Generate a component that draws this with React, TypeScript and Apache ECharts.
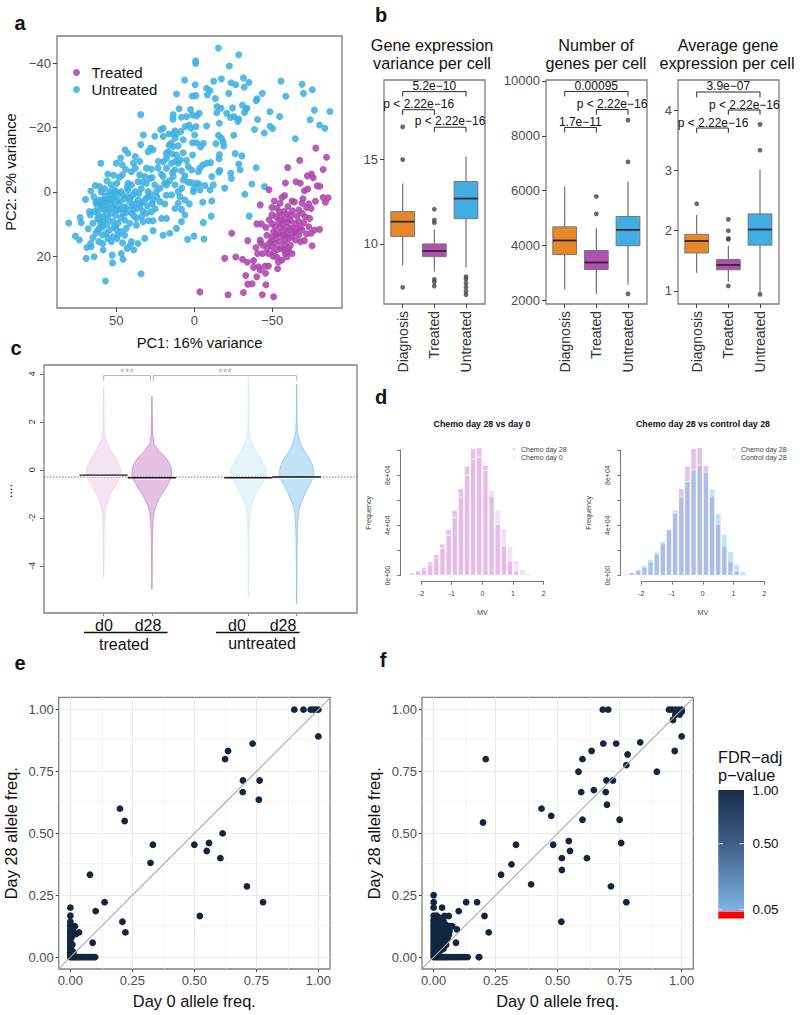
import React, { useEffect, useRef } from "react";
import * as echarts from "echarts";

const FONT = "Liberation Sans";

// ---------- panel a ----------
const untreatedPCA: number[][] = [
[-15.5,-44.7],[-28.5,-42.6],[-.9,-40.7],[-.9,-39.9],[-22.5,-39.1],[6.2,-34.7],[-.6,-33.3],[-12.4,-34.4],[-17.4,-35.1],[-23.6,-33.9],[-26.6,-33.3],[-31.5,-35.4],[-35,-34],[-32,-32.5],[-55.6,-34.4],[-69.1,-33.4],[-75.7,-31.7],[-70,-30.6],[-58.7,-29.7],[-43.6,-30.6],[-40.3,-28.9],[-39.7,-28.3],[-7.9,-32.2],[-10.1,-31.5],[-8.4,-30.1],[-22.1,-30.6],[-13.5,-29],[11.4,-30.4],[1.3,-29.8],[-1.1,-29.9],[9.7,-25.8],[2.4,-25.6],
[-48.5,-24.9],[-54.7,-23.4],[-40.6,-22.5],[-38.6,-19.4],[-44.9,-18.3],[-48.5,-20.4],[-50.2,-19.7],[-64.8,-16.5],[-74.3,-22.4],[-77,-25.4],[-80.3,-20.8],[-83.7,-19.8],[-86.9,-25],
[-33.3,-25.8],[-30.9,-26.9],[-32.2,-24.7],[-33.7,-26],[-24.5,-26.1],[-14.6,-26.5],[-17.2,-26],[-14.4,-24.6],[-20.8,-24.4],[-23.2,-23.1],[-25.5,-23.4],[-28.5,-22.6],[-27.9,-21.9],[-16.1,-21.3],[-25.3,-17.6],[-15.5,-17.6],[-17.4,-16.7],[-13.9,-15],[-18.9,-14.3],[-18.5,-15.6],[-26.2,-11.9],[-30.5,-11.2],[-16.1,-11.6],[-15.9,-10.3],[-28.5,-8.7],[-29.4,-6.9],[-23.4,-5.8],[-39.7,-7.5],[-36.9,-2.5],[-45,-1.7],[-32.4,.7],[-35.2,7.5],[-23.8,-4.2],[-19.5,-1.2],[-16.3,-6.7],[-15.7,-6.2],
[-3.2,-24.4],[-1.5,-23.6],[4.9,-23.4],[1.1,-23.9],[8.2,-23.2],[13.5,-24],[13.7,-22.6],[34.3,-24],[3.4,-20.8],[5.8,-20.3],[2.1,-19.8],[-1.1,-20.3],[-7.9,-20.5],[-.2,-17.7],[12.4,-19],[20,-19.8],[21.5,-19.4],[16.3,-18],[13.5,-18],[11.4,-18],[8.6,-18.8],[7.1,-16.2],[20,-17.2],[25.3,-17.3],[32.6,-17.7],[34.3,-14.7],[12.4,-16.7],[1.1,-15.3],[-1.5,-15.3],[-5.8,-15.1],[16.1,-14.5],[13.5,-14.1],[10.3,-14.3],[27.9,-13.6],[26.4,-13.1],[29.6,-12.5],[44.4,-13.1],[42.5,-12],[37.8,-11],[35,-9.5],[47.2,-10.5],[50,-8.9],[46.1,-8.4],[59.9,-8.9],
[16.7,-12.5],[14.2,-11.8],[11.4,-11.5],[7.1,-12.2],[1.1,-11.5],[20,-9.4],[17.8,-10.5],[14.6,-8.9],[10.3,-8.9],[3.9,-7.9],[-3.6,-7.4],[-5.4,-8.4],[-10.5,-9.1],[-7.9,-8.9],[-2.6,-6.3],[1.7,-6.8],[8.2,-6.6],[12.4,-6.8],[17.8,-7.4],[23.2,-7.4],[27.5,-7.1],[30.7,-7.4],[37.8,-7.4],[40.3,-6.3],[55.4,-5.6],[51.7,-5.2],[46.1,-5.3],[35,-5.3],[31.8,-4.8],[28.5,-4.2],[20,-4.8],[13.5,-4.8],[7.1,-3.7],[1.7,-2.9],[-1.5,-2.7],[-6.9,-2],[-11.2,-4.8],[-12.2,-2.2],[-10.1,-.6],[-3.6,-.6],[.2,-1.1],[12.4,-2.2],[17.8,-2.2],[25.3,-2.2],[30.7,-2.7],[36,-3.2],[40.3,-2.2],[42.5,-2.7],[49.6,-2.7],[53.2,-2.2],[63.5,-2],[60.7,-1.7],[66.3,-.3],[69.7,2.3],[64.4,1.5],[59.7,-.1],[57.5,-1.1],[54.3,-.1],[51.1,-.6],[46.8,-.1],[42.5,-.6],[37.8,-.1],[33.9,-1.1],[29.6,-.1],[24.3,-.1],[10.3,-.1],[9.2,1.5],[.6,-.1],
[60.7,2.5],[58.6,3.5],[56.4,3],[54.3,2.5],[51.1,1.5],[48.9,2.5],[45.7,.9],[42.5,1.5],[39.3,.9],[36.1,2.5],[32.8,3],[29.6,1.5],[26.4,2.5],[22.1,3],[18.9,3.7],[14.6,.9],[10.3,3.5],[6,2.5],[3.2,3.7],[-5.4,3.2],[-11.2,2.8],[12.4,5.1],[8.2,5.4],[6,7.1],[8.2,9.2],[17.8,8.2],[21,8.2],[27.5,6.1],[30.7,6.6],[33.9,7.7],[37.1,8.2],[40.3,6.6],[43.6,5.1],[46.8,5.1],[50,5.6],[53.2,6.6],[56.4,4.6],[59.7,5.1],[61.8,6.6],[64,6.1],[67.2,6.1],[66.7,7.1],[65,9.7],[73.2,7.9],[72.5,9.5],[80.5,9.6],[68,11.4],[60.7,8.7],[58.6,7.7],[55.4,8.2],[52.1,9.2],[48.9,9.7],[44.6,8.7],[41.4,9.7],[37.1,10.3],[32.8,9.2],[29.2,8.9],[26.4,8.9],[26.4,12],[20,13.4],[15.7,12.8],[11.4,11.3],[-5.8,9.5],[-10.9,7.5],[4.3,14.7],[.2,13.7],[-6.2,14.6],[43.6,11.3],[46.8,12.3],[51.1,10.8],[54.3,11.8],[58.6,10.8],[61.8,11.8],[65,14.1],[61.2,15.4],[58.6,16],[55.4,14.4],[52.1,13.9],[48.9,13.4],[44.6,13.4],[40.3,15.4],[36.1,16],[31.8,14.4],[38.8,18],[41,16.5],[46.8,19.1],[45.7,20.9],[52.6,19.6],[52.4,22],[58.4,18],[66.1,17],[68.9,17.2],[64.2,20.1],[69.3,20.6],[76.2,13.7],[73.6,14.9],[56.9,27.6],[34.1,25.4],
[58.6,2.5],[59.7,4],[57.5,5.6],[60.7,7.7],[56.4,6.6],[58.6,9.2],[55.4,5.1],[53.2,3.5],[51.1,4],[47.9,3.5],[44.6,4.6],[41.4,3],[38.2,3.7],[35,4.6],[50,-.1],[52.1,2],[61.8,4.6],[62.9,3],[60.7,11.3],[56.4,12.8],[53.2,15.4],[49.6,14.4],[45.7,6.6],[39.3,5.6],
[63,3.6],[62,8.2],[60,9.9],[57,1.2],[55.5,2.2],[53,.9],[52.5,4.8],[50.5,7.2],[49,5.5],[48,.5],[47,8],[45,2.2],[44,6.5],[43,-1.5],[41,2],[40,4.4],[38.5,7.5],[37,5.2],[35.5,.5],[34,3.5],[33,6],[31,2],[30,4.3],[28,.8],[27,3.6],[25,5.2],[24,1.5],[22,-1.2],[19,-2.8],[18,1],[16,-3.5],[14,-6],[12,-9.5],[9,-10],[6,-5],[4,-3],[8,-1.2],[56,-3.4],[48,-4.6],[44,-7],[39,-9],[33,-3],[27,-4.5],[23,-9.5],[18,-12],[21,-5.5],[15,-15.2],[5,-9.8],[-4,-14],[-3,-2.5],[56,10],[63,12.7],[59,13.3],[66.5,16],[50,11.6],[46,15.8],[43,17.5]
];
const treatedPCA: number[][] = [
[-77.9,-13.6],[-84.8,-10.8],[-67.6,-9.8],[-59.9,-7.6],[-82.6,-7],[-75.1,-5.6],[-72.5,-5],[-76.2,-4.4],[-65.2,-3.2],[-68,-2.7],[-58.4,-2.8],[-78.8,-1.9],[-80.5,-1.8],[-72.7,-.9],[-70.6,-.4],[-47.9,-.7],[-56.2,1.7],[-57.9,1.1],[-62.7,2.8],[-64.2,3.1],[-69.7,2.1],[-69.1,3.5],[-77.7,2.9],[-82.6,1.7],[-85.8,1.8],[-84.1,3.2],[-73.4,3.7],[-74.9,5.1],[-51.3,2.8],[-42.3,4],
[-49.8,4.8],[-67,5.6],[-65.9,7.5],[-69.1,6.6],[-71.2,7.7],[-74,8.2],[-54.7,6.2],[-57.3,6.1],[-59.4,6.8],[-49.8,7.1],[-52.6,7.7],[-55.2,7.7],[-58.4,8.2],[-61.6,8.7],[-64.2,9.7],[-67,9.2],[-70.2,9.5],[-73.4,10.8],[-40.1,9.9],[-43.1,9.9],[-49.8,9.9],[-54.1,9.2],[-56.2,9.9],[-51.9,10.8],[-59.4,10.8],[-62.7,11.3],[-65.9,11.3],[-69.1,11.8],[-77,11.8],[-80.3,11.6],[-74.9,12.8],[-24,12.8],[-46.6,13.4],[-49.8,13.9],[-52.6,14.4],[-56.2,13.4],[-59.4,12.8],[-62.7,13.9],[-64.8,14.9],[-68,15.4],[-70.6,15.1],[-34.3,15.1],[-42.3,14.9],[-42.5,15.7],[-49.1,15.4],[-51.9,16],[-55.2,15.4],[-58.4,16.5],[-61.6,16.5],[-75.5,16.7],[-39.5,17.2],[-40.6,19.1],[-46.6,17.5],[-49.8,17],[-57.3,17.8],[-59.9,17.5],[-62.7,19.1],[-59.4,20.1],[-43.8,19.1],[-47.6,19.1],[-50.4,19.9],[-53,20.3],[-56.2,21.1],[-54,21.7],[-19.5,20.6],[-26.6,20.2],[-30.9,20.9],[-33.9,21.8],[-38,21.3],[-38,23.4],[-41.2,23.2],[-42.3,24.2],[-45.5,23],[-47.6,23],[-53.4,23.8],[-33,25.9],[-45.7,25.2],[-40.1,26.3],[-34.3,28.6],[-37.1,28.5],[-45.9,28.8],[-3.6,31],[-21.7,31.9],[-31.5,31.2],[-43.6,31.9],[-50.9,32.5],
[-56.2,8.8],[-57.3,11.8],[-54,12.8],[-50.9,12.3],[-60.5,14.4],[-63.7,12.8],[-61.6,11.8],[-58.4,14.9],[-55.2,17.5],[-58.4,19.1],[-60.5,18.2],
[-55,3.5],[-60,4.5],[-63,5.8],[-53,5],[-48,8.6],[-46,11],[-52,13.2],[-55,11],[-58,13.6],[-65,12.2],[-67,13.3],[-72,13],[-53.5,17.8],[-51,18.7],[-48,16],[-44,16.5],[-62,7.2],[-68,11],[-72,4.8],[-60,9.5]
];

// ---------- panel b ----------
const groupNames = ["Diagnosis", "Treated", "Untreated"];
const groupColors = ["#e6872a", "#b04fb0", "#41aee3"];
// [group, min, q1, median, q3, max]
const varianceBoxes = [[1,8.72,10.45,11.32,11.92,13.58],[2,8.36,9.25,9.58,10,10.85],[3,8.6,11.5,12.69,13.7,15.18]];
const varianceOutliers = [[1,16.94],[1,15],[1,7.43],[2,12.06],[2,11.42],[2,11.26],[2,7.9],[2,7.75],[2,7.5],[3,8.06],[3,7.9],[3,7.66],[3,7.43],[3,7.19],[3,6.99]];
const genesBoxes = [[1,2407,3672,4182,4681,6152],[2,2237,3124,3380,3818,4632],[3,2565,3988,4571,5058,6335]];
const genesOutliers = [[2,5788],[2,5155],[3,8572],[3,7052],[3,2237]];
const averageBoxes = [[1,1.3,1.63,1.83,1.94,2.26],[2,1.15,1.35,1.43,1.52,1.75],[3,.98,1.76,2.02,2.28,3.02]];
const averageOutliers = [[1,2.45],[2,2.19],[2,2],[2,1.87],[2,1.855],[2,1.08],[3,3.77],[3,3.34],[3,.94]];
// [from, to, bar value, tip value]
const varianceBrackets = [[1,3,19.03,18.74],[1,2,17.96,17.65],[2,3,16.92,16.62]];
const genesBrackets = [[1,3,9618,9435],[2,3,8961,8767],[1,2,8305,8122]];
const averageBrackets = [[1,3,4.31,4.22],[2,3,4.01,3.93],[1,2,3.71,3.63]];

// ---------- panel c ----------
// [MV value, half width of the bean]
const beanTreatedD0 = [[3.44,.003],[2.5,.007],[1.6,.014],[1.3,.04],[1,.097],[.75,.166],[.5,.25],[.25,.317],[0,.359],[-.25,.359],[-.5,.29],[-.75,.22],[-1,.152],[-1.25,.097],[-1.5,.062],[-1.75,.034],[-2,.021],[-2.5,.01],[-3,.007],[-4,.005],[-4.51,.003]];
const beanTreatedD28 = [[3.06,.003],[2,.01],[1.4,.02],[1.1,.04],[.75,.166],[.5,.29],[.25,.372],[0,.41],[-.25,.41],[-.5,.359],[-.75,.29],[-1,.207],[-1.25,.138],[-1.5,.083],[-1.75,.048],[-2,.031],[-2.5,.017],[-3,.01],[-4,.007],[-4.97,.003]];
const beanUntreatedD0 = [[3.86,.003],[2.5,.007],[1.6,.014],[1.3,.04],[1,.097],[.75,.166],[.5,.25],[.25,.31],[0,.366],[-.25,.366],[-.5,.3],[-.75,.228],[-1,.159],[-1.25,.103],[-1.5,.062],[-1.75,.034],[-2,.021],[-2.5,.012],[-3,.008],[-4,.005],[-5.28,.003]];
const beanUntreatedD28 = [[3.58,.003],[2.2,.007],[1.5,.021],[1,.097],[.75,.166],[.5,.25],[.25,.317],[0,.352],[-.25,.352],[-.5,.303],[-.75,.234],[-1,.172],[-1.25,.117],[-1.5,.069],[-1.75,.041],[-2,.028],[-2.5,.017],[-3,.012],[-4,.007],[-5.58,.003]];
const beanMeans = [-.22,-.33,-.33,-.3];
const beanPositions = [1,2,4,5];
const overallMean = -.3;

// ---------- panel d ----------
const histBins = [-2.5,-2.3,-2.1,-1.9,-1.7,-1.5,-1.3,-1.1,-.9,-.7,-.5,-.3,-.1,.1,.3,.5,.7,.9,1.1,1.3,1.5,1.7];
const chemoDay28 = [1300,2400,4200,6900,11100,17000,25500,36900,52300,69500,87500,101300,102100,88000,63400,40800,23600,11400,3700,1100,300,0];
const chemoDay0 = [1300,2400,4200,5300,8800,14300,22300,32400,46400,62300,80100,93100,94600,84000,68100,52500,37700,23600,12200,5300,2100,500];
const controlDay28 = [1600,2900,5000,8500,13300,19100,27600,36900,50100,62800,75300,84500,88000,82700,69200,49600,33200,19600,9500,3700,1100,0];

// ---------- panels e, f ----------
const alleleE: number[][] = [
[.903,1],[.94,1],[.969,1],[.98,1],[.99,1],[1,1],[1,.892],[.735,.863],[.636,.833],[.624,.8],[.696,.714],[.763,.714],[.695,.667],[.76,.636],[.2,.6],[.219,.55],[.333,.454],[.323,.381],[.5,.454],[.559,.461],[.55,.429],[.614,.5],[.605,.4],[.079,.333],[.712,.286],[.138,.222],[.777,.222],[.102,.186],[.522,.166],[.21,.143],[.222,.1],[.09,.058],
[0,.2],[0,.167],[0,.143],[0,.13],[0,.125],[0,.111],[0,.1],[0,.09],[0,.08],[0,.07],[0,.06],[0,.05],[0,.04],[0,.03],[0,.02],[0,.01],[.018,.125],[.035,.1],[.023,.093],[.01,.111],[.005,.08],[.008,.05],[.004,.03],[.012,.02],
[0,0],[.005,0],[.01,0],[.015,0],[.02,0],[.025,0],[.03,0],[.035,0],[.04,0],[.045,0],[.05,0],[.055,0],[.06,0],[.066,0],[.072,0],[.077,0],[.083,0],[.09,0],[.095,0],[.1,0]
];
const alleleF: number[][] = [
[.949,1],[.961,1],[.974,1],[.988,1],[1,1],[.682,1],[.704,1],[.988,.992],[1,.992],[.974,.978],[.965,.958],[.98,.985],[.992,.98],[1,.892],[.972,.833],[.833,.868],[.736,.863],[.684,.863],[.637,.833],[.6,.8],[.782,.819],[.777,.776],[.21,.8],[.584,.749],[.9,.749],[.697,.714],[.723,.714],[.646,.675],[.595,.667],[.694,.667],[.699,.616],[.435,.6],[.474,.571],[.6,.555],[.75,.555],[.199,.544],[.545,.469],[.756,.461],[.332,.454],[.482,.454],[.55,.429],[.517,.4],[.618,.4],[.314,.375],[.517,.352],[.272,.333],[.393,.294],[.715,.286],[.777,.222],[.515,.143],[.205,.166],[.222,.1],[.175,.222],[.131,.222],[.101,.186],[.034,.2],[0,.25],[0,.222],[0,.2],[.044,.166],[.061,.166],[.094,.112],[.09,.058],[.182,0],
[0,.167],[0,.15],[0,.143],[0,.13],[0,.12],[0,.11],[0,.1],[0,.09],[0,.08],[0,.07],[0,.06],[0,.05],[0,.04],[0,.03],[0,.02],[0,.01],[.012,.167],[.02,.16],[.03,.15],[.04,.143],[.05,.13],[.067,.125],[.075,.125],[.012,.143],[.02,.13],[.03,.125],[.04,.118],[.06,.11],[.012,.11],[.022,.1],[.035,.1],[.05,.1],[.062,.09],[.012,.08],[.025,.075],[.045,.08],[.012,.055],[.03,.05],[.05,.05],[.04,.035],[.012,.03],[.02,.02],[.012,.01],
[.008,.16],[.008,.13],[.008,.1],[.008,.07],[.008,.04],[.016,.15],[.016,.12],[.016,.09],[.016,.065],[.016,.04],[.024,.14],[.024,.115],[.024,.085],[.024,.055],[.032,.135],[.032,.09],[.032,.07],[.032,.03],[.04,.16],[.04,.1],[.04,.08],[.04,.06],[.048,.115],[.048,.09],[.056,.125],[.056,.1],[.056,.075],[.064,.105],
[0,0],[.006,0],[.012,0],[.018,0],[.024,0],[.03,0],[.036,0],[.042,0],[.048,0],[.054,0],[.06,0],[.068,0],[.075,0],[.082,0],[.09,0],[.097,0],[.105,0],[.115,0],[.125,0],[.137,0],[.184,0]
];

const alleleTicks = [0, .25, .5, .75, 1];
const alleleMinor = [.125, .375, .625, .875];
const corr = [-.06, 1.06];

const GREY = "#4d4d4d";
const FRAME = "#7f7f7f";
const PT_BLUE = "#3fb0e3";
const PT_PURPLE = "#ad47ad";
const DARK = "#12263f";

const minus = (v: any) => String(v).replace("-", "\u2212");

function valueAxis(gridIndex: number, min: number, max: number, ticks: number[], extra: any = {}) {
  const { axisLabel, axisTick, axisLine, ...rest } = extra;
  return {
    type: "value", gridIndex, min, max, scale: false,
    axisLine: { show: false, onZero: false, ...(axisLine || {}) },
    axisTick: { show: true, length: 4, lineStyle: { color: "#444", width: 1 }, customValues: ticks, ...(axisTick || {}) },
    axisLabel: { color: GREY, fontSize: 13, fontFamily: FONT, margin: 6, customValues: ticks, formatter: minus, ...(axisLabel || {}) },
    splitLine: { show: false },
    ...rest,
  };
}

function boxSeries(axis: number, rows: number[][]) {
  return {
    type: "custom", xAxisIndex: axis, yAxisIndex: axis, data: rows, clip: false,
    encode: { x: 0, y: [1, 2, 3, 4, 5] },
    renderItem: (p: any, api: any) => {
      const x = api.value(0);
      const c = (a: number, b: number) => api.coord([a, b]);
      const hw = .375;
      const lo = c(x, api.value(1)), q1 = c(x, api.value(2)), med = c(x, api.value(3)), q3 = c(x, api.value(4)), hi = c(x, api.value(5));
      const l = c(x - hw, 0)[0], r = c(x + hw, 0)[0];
      const w = { stroke: "#666", lineWidth: 1.1 };
      return {
        type: "group",
        children: [
          { type: "line", shape: { x1: lo[0], y1: lo[1], x2: q1[0], y2: q1[1] }, style: w },
          { type: "line", shape: { x1: q3[0], y1: q3[1], x2: hi[0], y2: hi[1] }, style: w },
          { type: "rect", shape: { x: l, y: q3[1], width: r - l, height: q1[1] - q3[1] }, style: { fill: groupColors[p.dataIndex], stroke: "#777", lineWidth: 1 } },
          { type: "line", shape: { x1: l, y1: med[1], x2: r, y2: med[1] }, style: { stroke: "#2b2b2b", lineWidth: 1.8 } },
        ],
      };
    },
  };
}

function bracketSeries(axis: number, rows: number[][]) {
  return rows.map(([a, b, top, tip]) => ({
    type: "line", xAxisIndex: axis, yAxisIndex: axis, symbol: "none", clip: false,
    lineStyle: { color: "#111", width: .9 },
    data: [[a, tip], [a, top], [b, top], [b, tip]],
  }));
}

function beanSeries(center: number, profile: number[][], fill: string, stroke: string) {
  return {
    type: "custom", xAxisIndex: 4, yAxisIndex: 4, data: [[center]], clip: false,
    encode: { x: 0 },
    renderItem: (_: any, api: any) => {
      const x = api.value(0);
      const pts = [
        ...profile.map(([y, w]) => api.coord([x - w, y])),
        ...[...profile].reverse().map(([y, w]) => api.coord([x + w, y])),
      ];
      return { type: "polygon", shape: { points: pts }, style: { fill, stroke, lineWidth: .8 } };
    },
  };
}

function histSeries(axis: number, name: string, values: number[], color: string) {
  return {
    type: "bar", name, xAxisIndex: axis, yAxisIndex: axis, clip: false,
    barWidth: 6.13, barGap: "-100%",
    itemStyle: { color, borderColor: "#fff", borderWidth: .7 },
    data: histBins.map((b, i) => [b, values[i]]),
  };
}

function alleleSeries(axis: number, pts: number[][]) {
  return [
    {
      type: "line", xAxisIndex: axis, yAxisIndex: axis, data: [], symbol: "none", silent: true,
      markLine: {
        silent: true, symbol: "none", label: { show: false }, animation: false, z: 0,
        lineStyle: { color: "#f1f1f1", width: .8, type: "solid" },
        data: [...alleleMinor.map((v) => ({ xAxis: v })), ...alleleMinor.map((v) => ({ yAxis: v }))],
      },
    },
    { type: "scatter", xAxisIndex: axis, yAxisIndex: axis, symbolSize: 6.8, z: 3, itemStyle: { color: DARK, opacity: 1 }, data: pts },
    {
      type: "line", xAxisIndex: axis, yAxisIndex: axis, symbol: "none", z: 4,
      lineStyle: { color: "#aaaaaa", width: 1.1 }, data: [[corr[0], corr[0]], [corr[1], corr[1]]],
    },
  ];
}

function alleleAxes(axis: number) {
  const common = {
    axisLabel: { formatter: (v: number) => v.toFixed(2), color: GREY, fontSize: 13, margin: 5 },
    axisTick: { length: 3, lineStyle: { color: "#444", width: 1 } },
    splitLine: { show: true, lineStyle: { color: "#ebebeb", width: 1 } },
    nameLocation: "middle",
    nameTextStyle: { fontSize: 16.4, color: "#111", fontFamily: FONT },
  };
  return {
    x: valueAxis(axis, -.047, 1.047, alleleTicks, { ...common, name: "Day 0 allele freq.", nameGap: 24 }),
    y: valueAxis(axis, -.048, 1.05, alleleTicks, { ...common, name: "Day 28 allele freq.", nameGap: 40 }),
  };
}

function histAxes(axis: number) {
  const line = { show: true, lineStyle: { color: "#777", width: 1 } };
  const xA = valueAxis(axis, -2, 2, [-2, -1, 0, 1, 2], {
    axisLine: line, offset: 6,
    axisLabel: { fontSize: 7, color: "#444", margin: 8, formatter: (v: number) => String(v) },
    axisTick: { length: 3, lineStyle: { color: "#777", width: 1 } },
    name: "MV", nameLocation: "middle", nameGap: 27, nameTextStyle: { fontSize: 7.2, color: "#444", fontFamily: FONT },
  });
  const yA = valueAxis(axis, 0, 100000, [0, 20000, 40000, 60000, 80000, 100000], {
    axisLine: line, offset: 21,
    axisLabel: {
      fontSize: 7, color: "#444", rotate: 90, margin: 9, customValues: [0, 40000, 80000],
      formatter: (v: number) => (v === 0 ? "0e+00" : v / 10000 + "e+04"),
    },
    axisTick: { length: 3, lineStyle: { color: "#777", width: 1 } },
    name: "Frequency", nameLocation: "middle", nameGap: 28, nameTextStyle: { fontSize: 7.2, color: "#444", fontFamily: FONT },
  });
  return { x: xA, y: yA };
}

function txt(x: number, y: number, text: string, fontSize: number, opts: any = {}) {
  const { rotation, ...style } = opts;
  return {
    type: "text", x, y, rotation: rotation || 0, z: 20,
    style: { text, fontSize, fontFamily: FONT, fill: "#111", textAlign: "center", textVerticalAlign: "middle", ...style },
  };
}

function buildOption(): any {
  const frame = { show: true, borderColor: FRAME, borderWidth: 1.3, backgroundColor: "transparent" };
  const grids: any[] = [
    { left: 57, top: 36, width: 285, height: 272, ...frame },
    { left: 384, top: 80, width: 101, height: 224, ...frame },
    { left: 546, top: 80, width: 101, height: 224, ...frame },
    { left: 678, top: 80, width: 101, height: 224, ...frame },
    { left: 44, top: 365, width: 313, height: 248, ...frame },
    { left: 421, top: 450, width: 122.7, height: 125.7, show: false },
    { left: 641.3, top: 450, width: 123, height: 125.7, show: false },
    { left: 58.7, top: 697.3, width: 271.3, height: 271.7, ...frame },
    { left: 422, top: 697.3, width: 271.3, height: 271.7, ...frame },
  ];

  const groupLabel = { fontSize: 14, color: "#333", rotate: 90, margin: 7, formatter: (v: number) => groupNames[v - 1], customValues: [1, 2, 3] };
  const catAxis = (i: number) => valueAxis(i, .41, 3.6, [1, 2, 3], { axisLabel: groupLabel });
  const e = alleleAxes(7), f = alleleAxes(8), h1 = histAxes(5), h2 = histAxes(6);

  const xAxis = [
    valueAxis(0, -94.7, 88, [50, 0, -50], {
      inverse: true, name: "PC1: 16% variance", nameLocation: "middle", nameGap: 27,
      nameTextStyle: { fontSize: 14.7, color: "#111", fontFamily: FONT },
    }),
    catAxis(1), catAxis(2), catAxis(3),
    valueAxis(4, -.236, 6.25, beanPositions, { axisLabel: { show: false }, axisTick: { length: 3, lineStyle: { color: "#888" } } }),
    h1.x, h2.x, e.x, f.x,
  ];
  const yAxis = [
    valueAxis(0, -48.4, 36, [-40, -20, 0, 20], {
      inverse: true, name: "PC2: 2% variance", nameLocation: "middle", nameGap: 39,
      nameTextStyle: { fontSize: 14.7, color: "#111", fontFamily: FONT },
    }),
    valueAxis(1, 6.44, 19.72, [10, 15]),
    valueAxis(2, 1866, 10036, [2000, 4000, 6000, 8000, 10000]),
    valueAxis(3, .78, 4.51, [1, 2, 3, 4]),
    valueAxis(4, -5.97, 4.37, [-4, -2, 0, 2, 4], {
      axisLabel: { fontSize: 9, color: "#333", rotate: 90, margin: 8, formatter: (v: number) => String(v) },
      axisTick: { length: 4, lineStyle: { color: "#666" } },
    }),
    h1.y, h2.y, e.y, f.y,
  ];

  const meanLines = beanPositions.map((pos, i) => ({
    type: "line", xAxisIndex: 4, yAxisIndex: 4, symbol: "none", z: 5,
    lineStyle: { color: "#1a1a1a", width: 1.3 },
    data: [[pos - .5, beanMeans[i]], [pos + .5, beanMeans[i]]],
  }));
  const meanGlow = beanPositions.map((pos, i) => ({
    type: "line", xAxisIndex: 4, yAxisIndex: 4, symbol: "none", z: 4,
    lineStyle: { color: "#ffffff", width: 1 },
    data: [[pos - .36, beanMeans[i] - .055], [pos + .36, beanMeans[i] - .055]],
  }));
  const greyBracket = (a: number, b: number) => ({
    type: "line", xAxisIndex: 4, yAxisIndex: 4, symbol: "none", z: 5,
    lineStyle: { color: "#b5b5b5", width: 1 },
    data: [[a, 3.71], [a, 3.93], [b, 3.93], [b, 3.71]],
  });

  const series: any[] = [
    { type: "scatter", name: "Untreated", xAxisIndex: 0, yAxisIndex: 0, symbolSize: 7, itemStyle: { color: PT_BLUE, opacity: .88 }, data: untreatedPCA },
    { type: "scatter", name: "Treated", xAxisIndex: 0, yAxisIndex: 0, symbolSize: 7, itemStyle: { color: PT_PURPLE, opacity: .88 }, data: treatedPCA },

    boxSeries(1, varianceBoxes),
    boxSeries(2, genesBoxes),
    boxSeries(3, averageBoxes),
    { type: "scatter", xAxisIndex: 1, yAxisIndex: 1, symbolSize: 4.8, itemStyle: { color: "#444" }, data: varianceOutliers },
    { type: "scatter", xAxisIndex: 2, yAxisIndex: 2, symbolSize: 4.8, itemStyle: { color: "#444" }, data: genesOutliers },
    { type: "scatter", xAxisIndex: 3, yAxisIndex: 3, symbolSize: 4.8, itemStyle: { color: "#444" }, data: averageOutliers },
    ...bracketSeries(1, varianceBrackets),
    ...bracketSeries(2, genesBrackets),
    ...bracketSeries(3, averageBrackets),

    beanSeries(1, beanTreatedD0, "#f4e4f3", "#ecd5ea"),
    beanSeries(2, beanTreatedD28, "#e4c1e2", "#c78ec5"),
    beanSeries(4, beanUntreatedD0, "#e5f3fb", "#d2eaf6"),
    beanSeries(5, beanUntreatedD28, "#c0e3f5", "#84c8e9"),
    {
      type: "line", xAxisIndex: 4, yAxisIndex: 4, symbol: "none", z: 3,
      lineStyle: { color: "#555", width: .8, type: [1.5, 1.5] },
      data: [[-.236, overallMean], [6.25, overallMean]],
    },
    ...meanGlow,
    ...meanLines,
    greyBracket(1, 1.97),
    greyBracket(2.03, 5),

    histSeries(5, "Chemo day 28", chemoDay28, "rgba(200,120,200,.45)"),
    histSeries(5, "Chemo day 0", chemoDay0, "rgba(230,180,230,.4)"),
    histSeries(6, "Chemo day 28", chemoDay28, "rgba(200,120,200,.45)"),
    histSeries(6, "Control day 28", controlDay28, "rgba(74,180,233,.36)"),

    ...alleleSeries(7, alleleE),
    ...alleleSeries(8, alleleF),
  ];

  const legendText = { fontSize: 7, color: "#444", fontFamily: FONT };
  const legend = [
    {
      data: ["Treated", "Untreated"], left: 73, top: 65, orient: "vertical", selectedMode: false, icon: "circle",
      itemWidth: 8, itemHeight: 7, itemGap: 2, padding: 0,
      textStyle: { fontSize: 15, color: "#111", fontFamily: FONT, padding: [0, 0, 0, 6] },
    },
    {
      data: ["Chemo day 28", "Chemo day 0"], left: 511, top: 446, orient: "vertical", selectedMode: false, icon: "rect",
      itemWidth: 4, itemHeight: 4, itemGap: 1, padding: 0, textStyle: legendText,
    },
    {
      data: ["Chemo day 28", "Control day 28"], left: 731, top: 446, orient: "vertical", selectedMode: false, icon: "rect",
      itemWidth: 4, itemHeight: 4, itemGap: 1, padding: 0, textStyle: legendText,
    },
  ];

  const titleSize = 16.2, pSize = 12;
  const bold = { fontWeight: "bold" };
  const elements: any[] = [
    txt(20, 23, "a", 20, bold), txt(381, 15, "b", 20, bold), txt(16, 348, "c", 20, bold),
    txt(381, 397, "d", 20, bold), txt(20, 663, "e", 20, bold), txt(383, 660, "f", 20, bold),

    txt(432, 45, "Gene expression", titleSize), txt(432, 63, "variance per cell", titleSize),
    txt(596, 45, "Number of", titleSize), txt(596, 63, "genes per cell", titleSize),
    txt(728, 45, "Average gene", titleSize), txt(727, 63, "expression per cell", titleSize),

    txt(434.3, 85.7, "5.2e\u221210", pSize), txt(418.7, 104, "p < 2.22e\u221216", pSize), txt(450, 121.3, "p < 2.22e\u221216", pSize),
    txt(596.3, 86, "0.00095", pSize), txt(612, 104, "p < 2.22e\u221216", pSize), txt(580.3, 121.7, "1.7e\u221211", pSize),
    txt(728.3, 86.3, "3.9e\u221207", pSize), txt(744.3, 105, "p < 2.22e\u221216", pSize), txt(713, 122.7, "p < 2.22e\u221216", pSize),

    txt(127, 373, "***", 12, { fill: "#b5b5b5" }), txt(225, 373, "***", 12, { fill: "#b5b5b5" }),
    txt(7, 491, "....", 13, { rotation: Math.PI / 2 }),
    txt(104, 625, "d0", 16), txt(148, 625, "d28", 16), txt(237, 625, "d0", 16), txt(283, 625, "d28", 16),
    { type: "line", shape: { x1: 84, y1: 632.5, x2: 167.5, y2: 632.5 }, style: { stroke: "#111", lineWidth: 1.3 } },
    { type: "line", shape: { x1: 216, y1: 632.5, x2: 299.5, y2: 632.5 }, style: { stroke: "#111", lineWidth: 1.3 } },
    txt(124, 644, "treated", 16), txt(262, 643, "untreated", 16),

    txt(482, 424, "Chemo day 28 vs day 0", 8.8, bold),
    txt(703, 424, "Chemo day 28 vs control day 28", 8.8, bold),

    txt(718, 756.7, "FDR\u2212adj", 16.2, { textAlign: "left" }),
    txt(718, 775, "p\u2212value", 16.2, { textAlign: "left" }),
    {
      type: "rect", shape: { x: 718.3, y: 790, width: 25.7, height: 121 },
      style: {
        fill: new echarts.graphic.LinearGradient(0, 0, 0, 1, [
          { offset: 0, color: "#1a2d4a" }, { offset: .45, color: "#3d5f88" }, { offset: 1, color: "#7fb4e6" },
        ]),
      },
    },
    { type: "rect", shape: { x: 718.3, y: 911.5, width: 25.7, height: 7 }, style: { fill: "#ff0000" } },
    { type: "line", shape: { x1: 718.3, y1: 843.7, x2: 723, y2: 843.7 }, style: { stroke: "#cfd8e3", lineWidth: 1 } },
    { type: "line", shape: { x1: 739.3, y1: 843.7, x2: 744, y2: 843.7 }, style: { stroke: "#cfd8e3", lineWidth: 1 } },
    { type: "line", shape: { x1: 718.3, y1: 909.3, x2: 723, y2: 909.3 }, style: { stroke: "#cfd8e3", lineWidth: 1 } },
    { type: "line", shape: { x1: 739.3, y1: 909.3, x2: 744, y2: 909.3 }, style: { stroke: "#cfd8e3", lineWidth: 1 } },
    txt(752.5, 790, "1.00", 13.4, { textAlign: "left" }),
    txt(752.5, 843.7, "0.50", 13.4, { textAlign: "left" }),
    txt(752.5, 909.3, "0.05", 13.4, { textAlign: "left" }),
  ];

  return {
    animation: false,
    backgroundColor: "#ffffff",
    textStyle: { fontFamily: FONT },
    grid: grids, xAxis, yAxis, series, legend,
    graphic: { elements },
  };
}

export default function App() {
  const ref = useRef<HTMLDivElement | null>(null);
  useEffect(() => {
    if (!ref.current) return;
    const chart = echarts.init(ref.current, undefined, { renderer: "svg" });
    chart.setOption(buildOption());
    return () => chart.dispose();
  }, []);
  return <div ref={ref} style={{ position: "absolute", left: 0, top: 0, width: 800, height: 1015 }} />;
}
